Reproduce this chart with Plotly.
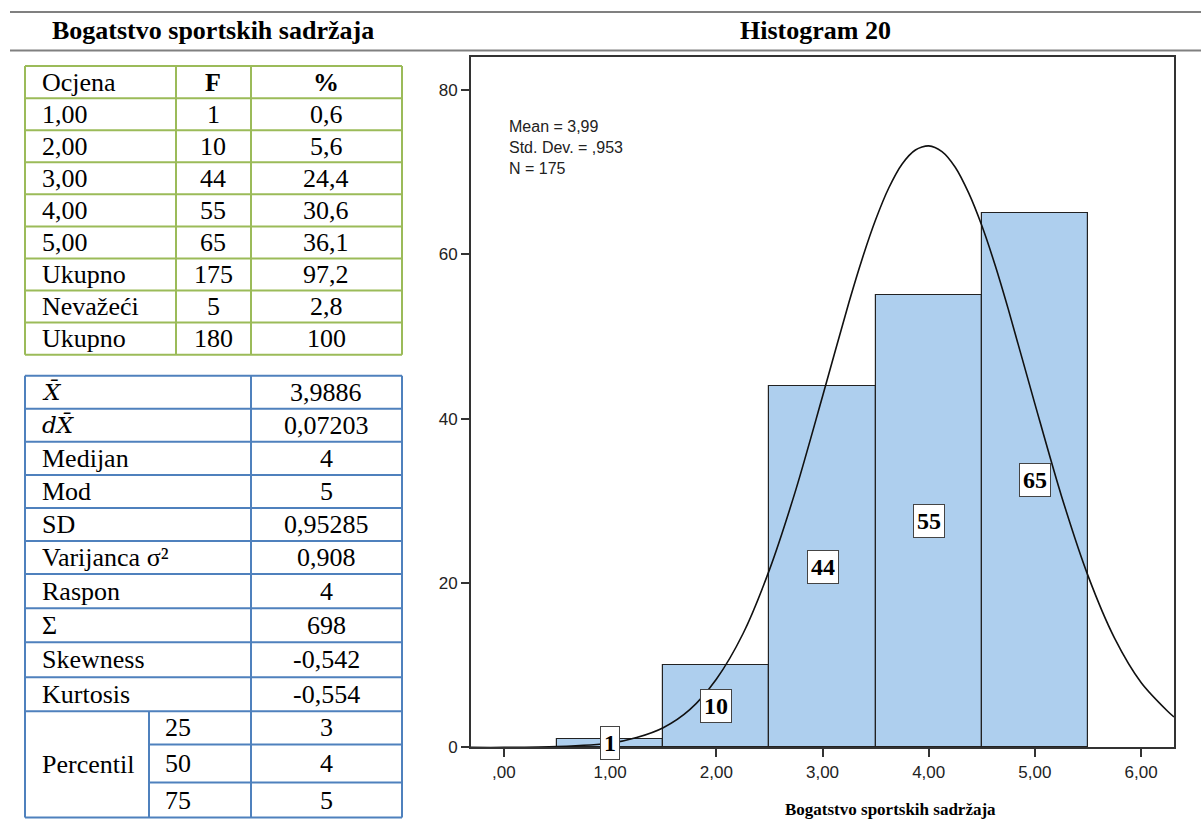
import plotly.graph_objects as go

W, H = 1201, 837
KY = 1.014  # korekcija okomitog mjerila snimke

# --- podaci: tablica frekvencija ---
ocjena = ["1,00", "2,00", "3,00", "4,00", "5,00", "Ukupno", "Nevažeći", "Ukupno"]
frekv = [1, 10, 44, 55, 65, 175, 5, 180]
postotak = ["0,6", "5,6", "24,4", "30,6", "36,1", "97,2", "2,8", "100"]

# --- podaci: deskriptivna statistika ---
stat_nazivi = ["<i>X̄</i>", "<i>dX̄</i>", "Medijan", "Mod", "SD", "Varijanca σ²",
               "Raspon", "Σ", "Skewness", "Kurtosis"]
stat_vrijednosti = ["3,9886", "0,07203", "4", "5", "0,95285", "0,908", "4", "698",
                    "-0,542", "-0,554"]
percentili = ["25", "50", "75"]
percentil_vrijednosti = ["3", "4", "5"]

# --- podaci: histogram ---
bin_centri = [1, 2, 3, 4, 5]
bin_frekv = [1, 10, 44, 55, 65]
x_tickovi = [0, 1, 2, 3, 4, 5, 6]
x_tick_tekst = [",00", "1,00", "2,00", "3,00", "4,00", "5,00", "6,00"]
y_tickovi = [0, 20, 40, 60, 80]
# normalna krivulja (ocitano sa slike)
krivulja_x = [-0.31, 0.0, 0.5, 1.0, 1.25, 1.5, 1.75, 2.0, 2.25, 2.5, 2.75, 3.0, 3.25,
              3.375, 3.5, 3.625, 3.75, 3.875, 4.0, 4.125, 4.25, 4.375, 4.5, 4.625,
              4.75, 5.0, 5.25, 5.5, 5.75, 6.0, 6.25, 6.31]
krivulja_y = [0.0, 0.0, 0.1, 0.5, 1.2, 2.4, 4.6, 8.3, 13.8, 21.6, 31.4, 42.7, 54.2,
              59.5, 64.2, 68.1, 71.0, 72.7, 73.2, 72.5, 70.6, 67.5, 63.5, 58.7,
              53.3, 41.8, 30.6, 20.9, 13.3, 7.9, 4.4, 3.7]
statistika_tekst = ["Mean = 3,99", "Std. Dev. = ,953", "N = 175"]

SERIF = "Liberation Serif, Times New Roman, serif"
SANS = "Liberation Sans, Arial, sans-serif"
ZELENA = "#9BBB59"
PLAVA = "#4F81BD"


def px(x):
    return x / W


def py(y):
    return 1 - y * KY / H


shapes = []
annotations = []


def linija(x0, y0, x1, y1, boja, sirina=2):
    shapes.append(dict(type="line", xref="paper", yref="paper",
                       x0=px(x0), y0=py(y0), x1=px(x1), y1=py(y1),
                       line=dict(color=boja, width=sirina)))


def tekst(x, y, t, size=26, anchor="left", bold=False, font=SERIF):
    if bold:
        t = "<b>" + t + "</b>"
    annotations.append(dict(xref="paper", yref="paper", x=px(x), y=py(y), text=t,
                            showarrow=False, xanchor=anchor, yanchor="middle",
                            font=dict(family=font, size=size, color="black")))


# --- naslovi i vodoravne crte ---
linija(10, 12, W, 12, "#808080", 2)
linija(10, 50.5, W, 50.5, "#808080", 2)
tekst(213, 30, "Bogatstvo sportskih sadržaja", size=26, anchor="center", bold=True)
tekst(815, 30, "Histogram 20", size=26, anchor="center", bold=True)

# --- tablica 1 (zelena) ---
t1_stupci = [25, 176, 251, 402]
t1_redovi = [66 + 32 * i for i in range(10)]
for y in t1_redovi:
    linija(t1_stupci[0], y, t1_stupci[-1], y, ZELENA)
for x in t1_stupci:
    linija(x, t1_redovi[0], x, t1_redovi[-1], ZELENA)
yc = (t1_redovi[0] + t1_redovi[1]) / 2
tekst(40, yc, "Ocjena")
tekst(213, yc, "F", anchor="center", bold=True)
tekst(326, yc, "%", anchor="center", bold=True)
for i in range(len(ocjena)):
    yc = (t1_redovi[i + 1] + t1_redovi[i + 2]) / 2
    tekst(40, yc, ocjena[i])
    tekst(213, yc, str(frekv[i]), anchor="center")
    tekst(326, yc, postotak[i], anchor="center")

# --- tablica 2 (plava) ---
t2_stupci = [25, 149, 251, 402]
t2_redovi = [375, 408, 441, 474, 507, 540, 573, 607, 641, 676, 710, 743, 781, 816]
for j, y in enumerate(t2_redovi):
    if 10 < j < 13:
        linija(t2_stupci[1], y, t2_stupci[-1], y, PLAVA)
    else:
        linija(t2_stupci[0], y, t2_stupci[-1], y, PLAVA)
linija(t2_stupci[0], t2_redovi[0], t2_stupci[0], t2_redovi[-1], PLAVA)
linija(t2_stupci[2], t2_redovi[0], t2_stupci[2], t2_redovi[-1], PLAVA)
linija(t2_stupci[3], t2_redovi[0], t2_stupci[3], t2_redovi[-1], PLAVA)
linija(t2_stupci[1], t2_redovi[10], t2_stupci[1], t2_redovi[-1], PLAVA)
for i in range(len(stat_nazivi)):
    yc = (t2_redovi[i] + t2_redovi[i + 1]) / 2
    if i < 2:
        tekst(40, yc, stat_nazivi[i], size=23, font="DejaVu Serif, serif")
    else:
        tekst(40, yc, stat_nazivi[i])
    tekst(326, yc, stat_vrijednosti[i], anchor="center")
tekst(40, (t2_redovi[10] + t2_redovi[13]) / 2, "Percentil")
for k in range(3):
    yc = (t2_redovi[10 + k] + t2_redovi[11 + k]) / 2
    tekst(163, yc, percentili[k])
    tekst(326, yc, percentil_vrijednosti[k], anchor="center")

# --- histogram ---
fig = go.Figure()
fig.add_trace(go.Bar(
    x=bin_centri, y=bin_frekv, width=1,
    marker=dict(color="#AECFEE", line=dict(color="#222222", width=1.2)),
    showlegend=False, hoverinfo="x+y"
))
fig.add_trace(go.Scatter(
    x=krivulja_x, y=krivulja_y, mode="lines",
    line=dict(color="#111111", width=1.6, shape="spline", smoothing=0.8),
    showlegend=False, hoverinfo="skip"
))

for xc, f in zip(bin_centri, bin_frekv):
    annotations.append(dict(xref="x", yref="y", x=xc, y=f / 2, text="<b>%d</b>" % f,
                            showarrow=False, bgcolor="white", bordercolor="#444444",
                            borderwidth=1, borderpad=3,
                            font=dict(family=SERIF, size=24, color="black")))

annotations.append(dict(xref="paper", yref="paper", x=px(507), y=py(116),
                        text="<br>".join(statistika_tekst), showarrow=False,
                        xanchor="left", yanchor="top", align="left",
                        font=dict(family=SANS, size=16, color="#222222")))
tekst(890, 808, "Bogatstvo sportskih sadržaja", size=17, anchor="center", bold=True)

fig.update_layout(
    width=W, height=H,
    margin=dict(l=0, r=0, t=0, b=0),
    paper_bgcolor="white",
    plot_bgcolor="white",
    bargap=0,
    shapes=shapes,
    annotations=annotations,
    xaxis=dict(domain=[px(471), px(1174)], range=[-0.31, 6.31],
               tickvals=x_tickovi, ticktext=x_tick_tekst,
               ticks="outside", ticklen=8, tickwidth=2, tickcolor="#333333",
               showline=True, linecolor="#333333", linewidth=2, mirror=True,
               showgrid=False, zeroline=False,
               tickfont=dict(family=SANS, size=17, color="#222222")),
    yaxis=dict(domain=[py(746), py(57)], range=[0, 84],
               tickvals=y_tickovi,
               ticks="outside", ticklen=8, tickwidth=2, tickcolor="#333333",
               showline=True, linecolor="#333333", linewidth=2, mirror=True,
               showgrid=False, zeroline=False,
               tickfont=dict(family=SANS, size=17, color="#222222")),
)

# bez margine stranice, da slika stoji tocno u prozoru
fig.write_html("out.html", config={"displayModeBar": False},
               post_script="document.body.style.margin='0';")
